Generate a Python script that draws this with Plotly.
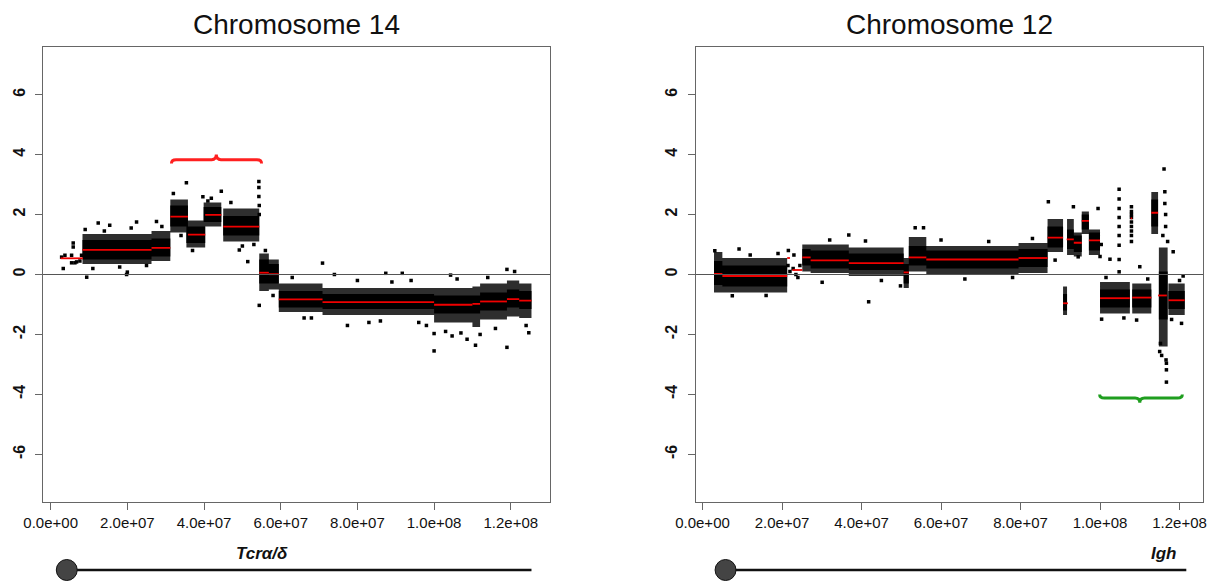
import plotly.graph_objects as go

# ---------------- Chromosome 14 ----------------
c14_seg_start = [2.6e6, 8.3e6, 2.63e7, 3.12e7, 3.58e7, 4.03e7, 4.5e7, 5.44e7, 5.69e7, 5.95e7,
                 7.09e7, 1.0e8, 1.1e8, 1.12e8, 1.19e8, 1.222e8]
c14_seg_end = [8.4e6, 2.63e7, 3.12e7, 3.58e7, 4.03e7, 4.45e7, 5.44e7, 5.69e7, 5.95e7, 7.09e7,
               1.0e8, 1.1e8, 1.12e8, 1.19e8, 1.222e8, 1.254e8]
c14_seg_mean = [0.54, 0.82, 0.89, 1.93, 1.33, 1.99, 1.6, 0.06, 0.01, -0.83,
                -0.92, -1.01, -0.98, -0.9, -0.82, -0.87]

c14_cloud_start = [8.3e6, 2.63e7, 3.12e7, 3.54e7, 3.99e7, 4.5e7, 5.44e7, 5.69e7, 5.95e7, 7.09e7,
                   1.0e8, 1.1e8, 1.12e8, 1.19e8, 1.222e8]
c14_cloud_end = [2.63e7, 3.12e7, 3.58e7, 4.03e7, 4.45e7, 5.44e7, 5.69e7, 5.95e7, 7.09e7, 1.0e8,
                 1.1e8, 1.12e8, 1.19e8, 1.222e8, 1.254e8]
c14_outer_lo = [0.35, 0.45, 1.4, 0.9, 1.6, 1.1, -0.55, -0.5, -1.25, -1.35, -1.6, -1.75, -1.5, -1.4, -1.45]
c14_outer_hi = [1.35, 1.45, 2.5, 1.8, 2.4, 2.2, 0.7, 0.5, -0.3, -0.45, -0.45, -0.4, -0.3, -0.2, -0.3]
c14_inner_lo = [0.5, 0.6, 1.6, 1.05, 1.75, 1.3, -0.3, -0.3, -1.1, -1.15, -1.3, -1.3, -1.2, -1.1, -1.15]
c14_inner_hi = [1.15, 1.2, 2.3, 1.6, 2.25, 1.95, 0.5, 0.35, -0.55, -0.65, -0.7, -0.7, -0.6, -0.5, -0.55]

c14_pts_x = [2.86e6, 3.28e6, 3.72e6, 5.46e6, 5.46e6, 5.88e6, 5.88e6, 6.32e6, 6.76e6, 7.62e6, 8.06e6,
             1.24e7, 1.54e7, 2.24e7, 2.76e7, 9.4e6, 1.98e7, 2.0e7, 3.54e7, 4.45e7, 4.19e7, 3.97e7,
             4.92e7, 5.14e7, 5.44e7, 7.09e7, 8.74e7, 9.17e7, 1.043e8, 1.19e8, 7.74e7, 1.0e8, 1.19e8,
             1.108e8, 1.086e8, 1.047e8, 1.247e8, 1.0e8, 8.3e7, 6.61e7,
             5.43e7, 5.43e7, 5.43e7, 5.44e7, 5.44e7,
             9.0e6, 1.1e7, 1.4e7, 1.8e7, 2.1e7, 2.5e7, 2.9e7, 3.2e7, 3.4e7, 3.7e7, 4.1e7, 4.7e7,
             5.0e7, 5.3e7, 5.6e7, 5.8e7, 6.3e7, 6.8e7, 7.4e7, 8.0e7, 8.6e7, 9.4e7, 9.8e7, 1.03e8,
             1.06e8, 1.12e8, 1.16e8, 1.21e8, 1.24e8, 1.07e8, 1.14e8, 9.6e7, 8.9e7]
c14_pts_y = [0.58, 0.2, 0.64, 0.64, 0.39, 1.05, 0.92, 0.39, 0.42, 0.45, 0.64,
             1.72, 1.64, 1.75, 1.77, -0.09, 0.0, 0.08, 3.06, 2.78, 2.54, 2.59,
             0.82, 0.43, -1.03, 0.38, 0.04, 0.04, -0.02, 0.17, -1.7, -2.55, -2.43,
             -2.36, -2.16, -2.05, -1.94, -1.97, -1.6, -1.45,
             3.1, 2.9, 2.6, 2.3, 2.0,
             1.5, 0.2, 1.45, 0.25, 1.55, 0.3, 1.6, 2.7, 1.3, 0.8, 2.45, 2.4,
             0.95, 1.0, 0.8, -0.7, -0.1, -1.45, 0.0, -0.2, -1.55, -0.2, -1.7, -1.9,
             -0.15, -2.0, -1.8, 0.1, -1.7, -1.95, -0.1, -1.6, -0.25]

# ---------------- Chromosome 12 ----------------
c12_seg_start = [2.9e6, 5.0e6, 2.13e7, 2.26e7, 2.51e7, 2.72e7, 3.68e7, 5.06e7, 5.19e7, 5.63e7,
                 7.95e7, 8.68e7, 9.07e7, 9.16e7, 9.34e7, 9.54e7, 9.72e7, 1.0e8, 1.077e8, 1.081e8,
                 1.129e8, 1.146e8, 1.172e8]
c12_seg_end = [5.0e6, 2.13e7, 2.2e7, 2.51e7, 2.72e7, 3.68e7, 5.06e7, 5.19e7, 5.63e7, 7.95e7,
               8.68e7, 9.07e7, 9.19e7, 9.34e7, 9.54e7, 9.72e7, 1.0e8, 1.075e8, 1.081e8, 1.129e8,
               1.146e8, 1.168e8, 1.213e8]
c12_seg_mean = [0.02, -0.05, 0.55, 0.15, 0.57, 0.47, 0.38, 0.07, 0.57, 0.5,
                0.55, 1.23, -0.96, 1.17, 1.06, 1.79, 1.14, -0.79, 1.87, -0.77,
                2.06, -0.7, -0.86]

c12_cloud_start = [2.9e6, 5.0e6, 2.51e7, 2.72e7, 3.68e7, 5.06e7, 5.19e7, 5.63e7, 7.95e7, 8.68e7,
                   9.07e7, 9.17e7, 9.34e7, 9.54e7, 9.72e7, 1.0e8, 1.081e8, 1.129e8, 1.148e8, 1.172e8]
c12_cloud_end = [5.0e6, 2.13e7, 2.72e7, 3.68e7, 5.06e7, 5.19e7, 5.63e7, 7.95e7, 8.68e7, 9.07e7,
                 9.17e7, 9.34e7, 9.54e7, 9.72e7, 1.0e8, 1.075e8, 1.129e8, 1.146e8, 1.17e8, 1.213e8]
c12_outer_lo = [-0.6, -0.6, 0.1, 0.05, -0.05, -0.45, 0.1, 0.0, 0.05, 0.75,
                -1.35, 0.65, 0.6, 1.35, 0.65, -1.3, -1.3, 1.35, -2.4, -1.35]
c12_outer_hi = [0.75, 0.55, 1.0, 1.0, 0.9, 0.55, 1.25, 0.95, 1.05, 1.85,
                -0.4, 1.85, 1.4, 2.1, 1.5, -0.25, -0.3, 2.75, 0.9, -0.3]
c12_inner_lo = [-0.35, -0.4, 0.3, 0.2, 0.15, -0.3, 0.3, 0.2, 0.25, 0.9,
                -1.2, 0.85, 0.75, 1.5, 0.8, -1.1, -1.1, 1.6, -1.5, -1.15]
c12_inner_hi = [0.45, 0.3, 0.85, 0.8, 0.7, 0.35, 0.95, 0.8, 0.85, 1.6,
                -0.65, 1.5, 1.3, 2.0, 1.4, -0.5, -0.5, 2.5, 0.1, -0.55]

c12_pts_x = [3.1e6, 9.2e6, 7.5e6, 4.18e7, 3.68e7, 4.1e7, 5.35e7, 5.56e7, 4.98e7, 3.01e7,
             2.15e7, 2.2e7, 2.3e7, 2.35e7, 2.4e7, 2.45e7, 2.16e7, 2.28e7,
             8.7e7, 9.33e7, 9.95e7,
             1.048e8, 1.048e8, 1.048e8, 1.048e8, 1.048e8, 1.048e8, 1.048e8, 1.048e8, 1.048e8,
             1.079e8, 1.079e8, 1.079e8, 1.079e8, 1.079e8, 1.079e8, 1.079e8, 1.079e8, 1.079e8,
             1.161e8, 1.163e8, 1.163e8, 1.165e8, 1.165e8, 1.167e8, 1.167e8, 1.167e8, 1.166e8,
             1.15e8, 1.152e8, 1.184e8, 1.209e8, 1.025e8, 1.1e8, 1.092e8, 1.004e8, 1.205e8,
             8.87e7, 9.45e7, 1.0e8, 1.003e8,
             1.2e7, 1.6e7, 1.9e7, 3.2e7, 4.5e7, 6.0e7, 6.6e7, 7.2e7, 7.8e7, 8.3e7,
             1.015e8, 1.06e8, 1.12e8, 1.18e8, 1.2e8, 1.158e8, 1.17e8, 1.155e8]
c12_pts_y = [0.79, 0.85, -0.71, -0.91, 1.32, 1.12, 1.56, 1.56, -0.38, -0.26,
             0.3, 0.1, 0.65, 0.0, -0.1, 0.3, 0.8, 0.2,
             2.43, 2.26, 2.2,
             2.84, 2.52, 2.2, 1.9, 1.6, 1.3, 0.98, 0.5, 0.09,
             2.26, 2.1, 2.0, 1.9, 1.75, 1.6, 1.45, 1.3, 1.1,
             3.52, 2.76, 2.37, 2.0, 1.6, -3.59, -3.18, -2.96, -2.85,
             -2.57, -2.3, 0.76, -0.05, 0.51, 0.26, -1.52, -1.49, -1.63,
             0.48, 0.59, 0.6, 1.0,
             0.65, -0.7, 0.7, 1.15, -0.2, 1.15, -0.15, 1.1, -0.1, 1.2,
             -0.1, -1.45, -0.15, -1.5, -0.2, 1.3, 1.1, -2.7]

# ---------------- axes / annotations ----------------
x_ranges = [[-2.0e6, 1.303e8], [-1.7e6, 1.259e8]]
x_domains = [[0.0, 0.4373], [0.5627, 1.0]]
y_range = [-7.59, 7.59]
xtick_vals = [0, 2e7, 4e7, 6e7, 8e7, 1.0e8, 1.2e8]
xtick_text = ["0.0e+00", "2.0e+07", "4.0e+07", "6.0e+07", "8.0e+07", "1.0e+08", "1.2e+08"]
ytick_vals = [-6, -4, -2, 0, 2, 4, 6]
ytick_text = ["-6", "-4", "-2", "0", "2", "4", "6"]
titles = ["Chromosome 14", "Chromosome 12"]

ideo_start = [4.2e6, 5.8e6]
ideo_end = [1.254e8, 1.217e8]
gene_labels = ["Tcrα/δ", "Igh"]
gene_label_x = [5.5e7, 1.162e8]

bracket_x = [[3.15e7, 4.32e7, 5.5e7], [9.99e7, 1.1e8, 1.207e8]]
bracket_y = [[3.7, 3.83, 4.0], [-4.0, -4.12, -4.28]]
bracket_colors = ["#ff2020", "#1f9e1f"]

W, H = 1215, 581
ML, MR, MT, MB = 43, 8, 47, 79
PW, PH = W - ML - MR, H - MT - MB
FONT = "Liberation Sans, Arial, sans-serif"


def rect_polys(starts, ends, los, his):
    xs, ys = [], []
    for s, e, lo, hi in zip(starts, ends, los, his):
        xs += [s, e, e, s, s, None]
        ys += [lo, lo, hi, hi, lo, None]
    return xs, ys


def seg_lines(starts, ends, means):
    xs, ys = [], []
    for s, e, m in zip(starts, ends, means):
        xs += [s, e, None]
        ys += [m, m, None]
    return xs, ys


def data_to_paper_x(v, i):
    r0, r1 = x_ranges[i]
    d0, d1 = x_domains[i]
    return d0 + (v - r0) / (r1 - r0) * (d1 - d0)


def px_to_paper_y(py):
    return (H - MB - py) / PH


fig = go.Figure()

chroms = [
    (c14_seg_start, c14_seg_end, c14_seg_mean, c14_cloud_start, c14_cloud_end,
     c14_outer_lo, c14_outer_hi, c14_inner_lo, c14_inner_hi, c14_pts_x, c14_pts_y),
    (c12_seg_start, c12_seg_end, c12_seg_mean, c12_cloud_start, c12_cloud_end,
     c12_outer_lo, c12_outer_hi, c12_inner_lo, c12_inner_hi, c12_pts_x, c12_pts_y),
]

for i, ch in enumerate(chroms):
    ss, se, sm, cs, ce, olo, ohi, ilo, ihi, px, py = ch
    xa = "x" if i == 0 else "x2"
    ya = "y" if i == 0 else "y2"
    ox, oy = rect_polys(cs, ce, olo, ohi)
    fig.add_trace(go.Scatter(x=ox, y=oy, xaxis=xa, yaxis=ya, mode="lines", fill="toself",
                             line=dict(width=0, color="rgba(0,0,0,0)"),
                             fillcolor="rgba(0,0,0,0.82)",
                             hoverinfo="skip", showlegend=False))
    ix, iy = rect_polys(cs, ce, ilo, ihi)
    fig.add_trace(go.Scatter(x=ix, y=iy, xaxis=xa, yaxis=ya, mode="lines", fill="toself",
                             line=dict(width=0, color="black"), fillcolor="black",
                             hoverinfo="skip", showlegend=False))
    fig.add_trace(go.Scatter(x=px, y=py, xaxis=xa, yaxis=ya, mode="markers",
                             marker=dict(size=3.5, color="black", symbol="square"),
                             showlegend=False))
    lx, ly = seg_lines(ss, se, sm)
    fig.add_trace(go.Scatter(x=lx, y=ly, xaxis=xa, yaxis=ya, mode="lines",
                             line=dict(color="#f00000", width=1.8), showlegend=False))

    # zero line
    fig.add_shape(type="line", xref=f"{xa} domain", yref=ya, x0=0, x1=1, y0=0, y1=0,
                  line=dict(color="#555", width=1), layer="above")

    # bracket
    bx, by = bracket_x[i], bracket_y[i]
    d = 1.2e6
    path = (f"M {bx[0]},{by[0]} Q {bx[0]},{by[1]} {bx[0]+d},{by[1]} "
            f"L {bx[1]-d},{by[1]} Q {bx[1]},{by[1]} {bx[1]},{by[2]} "
            f"Q {bx[1]},{by[1]} {bx[1]+d},{by[1]} "
            f"L {bx[2]-d},{by[1]} Q {bx[2]},{by[1]} {bx[2]},{by[0]}")
    fig.add_shape(type="path", xref=xa, yref=ya, path=path,
                  line=dict(color=bracket_colors[i], width=3))

    # title
    fig.add_annotation(text=titles[i], xref="paper", yref="paper",
                       x=(x_domains[i][0] + x_domains[i][1]) / 2, y=px_to_paper_y(25),
                       showarrow=False, xanchor="center", yanchor="middle",
                       font=dict(family=FONT, size=28, color="#111"))

    # ideogram
    yl = px_to_paper_y(570)
    x0p = data_to_paper_x(ideo_start[i], i)
    x1p = data_to_paper_x(ideo_end[i], i)
    fig.add_shape(type="line", xref="paper", yref="paper", x0=x0p, x1=x1p, y0=yl, y1=yl,
                  line=dict(color="#111", width=2.5))
    rx, ry = 10.5 / PW, 10.5 / PH
    fig.add_shape(type="circle", xref="paper", yref="paper",
                  x0=x0p - rx, x1=x0p + rx, y0=yl - ry, y1=yl + ry,
                  fillcolor="#444", line=dict(color="#111", width=1))
    fig.add_annotation(text=f"<b><i>{gene_labels[i]}</i></b>", xref=xa, yref="paper",
                       x=gene_label_x[i], y=px_to_paper_y(553), showarrow=False,
                       xanchor="center", yanchor="middle",
                       font=dict(family=FONT, size=17, color="#111"))

ax_common = dict(showline=True, mirror=True, linecolor="#666", linewidth=1,
                 ticks="outside", ticklen=7, tickcolor="#666", showgrid=False, zeroline=False)
xax = dict(tickvals=xtick_vals, ticktext=xtick_text,
           tickfont=dict(family=FONT, size=15, color="#111"), **ax_common)
yax = dict(range=y_range, tickvals=ytick_vals, ticktext=ytick_text, tickangle=-90,
           ticklabelstandoff=4,
           tickfont=dict(family=FONT, size=16, color="#111", weight="bold"), **ax_common)

fig.update_layout(
    width=W, height=H, margin=dict(l=ML, r=MR, t=MT, b=MB),
    plot_bgcolor="white", paper_bgcolor="white", showlegend=False,
    xaxis=dict(domain=x_domains[0], range=x_ranges[0], anchor="y", **xax),
    yaxis=dict(anchor="x", **yax),
    xaxis2=dict(domain=x_domains[1], range=x_ranges[1], anchor="y2", **xax),
    yaxis2=dict(anchor="x2", **yax),
)

fig.write_html("out.html")
